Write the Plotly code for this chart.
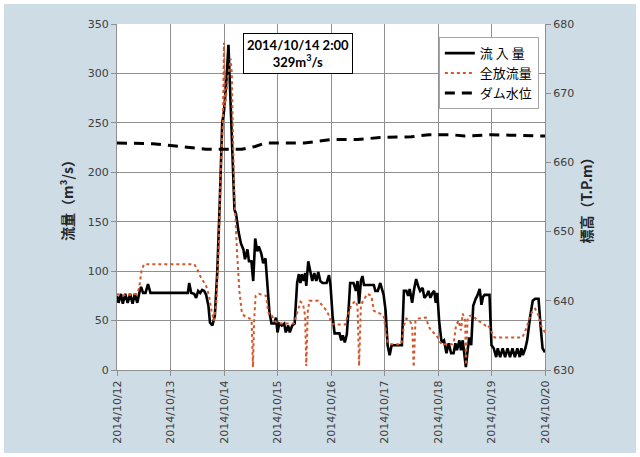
import pandas as pd
import plotly.graph_objects as go

# ---- data (hours since 2014/10/12 00:00) ----
inflow_hours = [0, 0.7, 1.8, 2.6, 3.7, 4.8, 5.9, 7.0, 8.0, 9.1, 10.2, 10.8, 11.7, 12.8, 13.9, 15.0, 16.3,
                31.8, 32.4, 33.3, 34.6, 35.5, 36.4, 37.3, 38.2, 39.1, 40.0, 41.0, 41.7, 42.8, 43.9, 45.0,
                46.1, 47.2, 48.0, 49.0, 50.0, 50.7, 51.6, 52.3, 52.7, 53.4, 54.5, 55.6, 56.7, 57.4, 58.5,
                59.2, 60.3, 61.1, 62.0, 62.9, 63.6, 64.7, 65.6, 66.6, 67.5, 68.4, 69.3, 70.6, 71.3, 72.0,
                72.8, 73.9, 75.0, 75.7, 76.8, 77.5, 78.6, 79.7, 80.8, 81.6, 82.3, 83.0, 83.8, 84.5, 84.9,
                85.8, 86.7, 87.6, 88.5, 89.4, 90.3, 91.2, 92.2, 93.3, 94.0, 95.1, 95.8, 96.7, 97.6, 98.7,
                99.8, 100.6, 101.3, 102.2, 103.1, 104.0, 104.6, 106.1, 107.2, 107.9, 108.6, 109.4, 110.1,
                110.8, 115.2, 115.9, 117.0, 118.1, 118.9, 119.6, 120.5, 121.4, 122.3, 123.2, 127.8, 128.7,
                129.8, 130.6, 131.3, 132.4, 133.3, 134.2, 135.1, 136.0, 137.1, 137.9, 139.0, 139.7, 140.6,
                141.5, 142.3, 143.0, 143.7, 144.5, 145.6, 146.7, 147.8, 148.8, 149.9, 151.0, 151.8, 152.5,
                153.6, 154.3, 155.1, 155.8, 156.5, 157.3, 158.0, 158.9, 159.8, 160.9, 161.6, 162.7, 163.5,
                164.2, 164.9, 167.1, 168.0, 169.0, 170.1, 170.8, 171.9, 173.0, 174.1, 175.2, 176.3, 177.4,
                178.5, 179.6, 180.7, 181.4, 182.1, 183.2, 184.0, 185.4, 186.5, 187.6, 189.1, 190.0, 190.9,
                192]
inflow_m3s = [75, 68, 77, 67, 77, 68, 77, 67, 77, 68, 80, 84, 78, 78, 87, 78, 78,
              78, 88, 78, 77, 73, 80, 78, 81, 80, 76, 65, 48, 45, 55, 100,
              170, 250, 262, 290, 329, 280, 230, 170, 162, 158, 140, 128, 122, 112, 122,
              110, 110, 90, 133, 120, 125, 118, 108, 113, 80, 58, 47, 47, 53, 38,
              47, 45, 47, 38, 45, 38, 45, 47, 88, 97, 88, 97, 90, 98, 85,
              110, 100, 90, 98, 90, 99, 90, 88, 88, 88, 96, 85, 55, 37, 37,
              37, 30, 35, 28, 36, 65, 88, 88, 80, 90, 67, 90, 95,
              86, 86, 80, 80, 88, 80, 76, 60, 25, 15, 25, 25, 80,
              80, 75, 82, 68, 82, 92, 85, 80, 83, 73, 76, 80, 73,
              78, 80, 68, 78, 50, 28, 30, 17, 27, 17, 17, 27, 20,
              30, 20, 30, 15, 3, 20, 33, 25, 65, 72, 75, 82, 66,
              74, 76, 76, 25, 22, 13, 22, 13, 22, 13, 22, 13, 22,
              13, 22, 13, 22, 15, 22, 30, 55, 70, 72, 72, 45, 22,
              18]

outflow_hours = [0, 2.6, 4.4, 6.2, 9.0, 9.9, 11.0, 12.1, 34.6, 35.8, 37.3, 38.8, 40.0, 41.3, 42.4,
                 43.5, 44.6, 45.7, 46.5, 47.5, 48.0, 48.4, 49.0, 50.0, 51.0, 51.5, 52.0, 52.6, 53.8,
                 54.9, 56.0, 57.0, 58.5, 59.6, 60.4, 61.0, 61.5, 62.2, 63.6, 65.6, 66.9, 67.7, 68.4,
                 69.5, 70.6, 71.7, 73.1, 79.4, 81.2, 82.3, 83.4, 84.4, 84.9, 85.6, 86.3, 90.3, 92.2,
                 94.0, 95.1, 96.2, 97.6, 102.4, 103.5, 105.0, 106.8, 107.9, 108.6, 109.4, 110.4, 112.3,
                 114.1, 115.2, 116.7, 118.1, 119.6, 120.5, 121.4, 123.2, 127.6, 128.7, 129.8, 131.3,
                 132.4, 133.1, 133.9, 135.0, 138.6, 139.7, 140.8, 141.9, 143.4, 144.5, 145.6, 150.3,
                 151.0, 152.1, 153.2, 154.3, 155.1, 156.2, 156.5, 157.3, 158.4, 159.8, 161.6, 163.5,
                 165.3, 166.4, 168.2, 169.3, 181.8, 182.9, 184.0, 185.4, 186.5, 187.6, 189.1, 190.2, 192]
outflow_m3s = [77, 75, 77, 76, 77, 83, 100, 107, 107, 103, 95, 90, 85, 75, 60,
               50, 70, 130, 200, 250, 331, 266, 280, 300, 315, 300, 240, 180, 121,
               80, 58, 55, 53, 52, 50, 3, 50, 75, 77, 76, 75, 60, 55,
               55, 50, 48, 47, 47, 60, 69, 67, 55, 4, 60, 70, 70, 65,
               60, 55, 47, 46, 46, 55, 65, 70, 65, 4, 65, 70, 77,
               75, 60, 58, 57, 55, 40, 28, 26, 26, 45, 52, 50,
               45, 3, 50, 52, 53, 45, 40, 38, 35, 30, 26, 26,
               27, 45, 50, 40, 57, 50, 5, 53, 55, 55, 50, 48,
               45, 46, 38, 33, 33, 38, 45, 55, 60, 62, 55, 45, 38]

level_hours = [0, 16, 28, 40, 48, 56, 62, 66.5, 84, 90, 96, 108, 118, 132, 140, 150, 156, 168, 192]
level_tpm = [662.8, 662.7, 662.3, 661.9, 661.9, 661.9, 662.3, 662.8, 662.8, 663.1, 663.3, 663.3,
             663.6, 663.7, 664.0, 664.0, 663.8, 664.0, 663.8]

start = pd.Timestamp("2014-10-12")
def to_time(hours):
    return [start + pd.Timedelta(hours=h) for h in hours]

series_names = ["流 入 量", "全放流量", "ダム水位"]
peak_label = "2014/10/14 2:00<br>329m<sup>3</sup>/s"

fig = go.Figure()
fig.add_trace(go.Scatter(x=to_time(inflow_hours), y=inflow_m3s, name=series_names[0], mode="lines",
                         line=dict(color="black", width=2.6)))
fig.add_trace(go.Scatter(x=to_time(outflow_hours), y=outflow_m3s, name=series_names[1], mode="lines",
                         line=dict(color="#D2572B", width=2, dash="dot")))
fig.add_trace(go.Scatter(x=to_time(level_hours), y=level_tpm, name=series_names[2], mode="lines",
                         yaxis="y2", line=dict(color="black", width=3, dash="10px,7px")))

L, R, T, B = 117, 95, 24, 87
W, H = 640 - L - R, 457 - T - B
grid = "#8F8F8F"
tickfont = dict(family="DejaVu Sans", size=11, color="#404040")
titlefont = dict(family="Noto Sans CJK JP", size=14, color="#262626", weight="bold")

fig.update_layout(
    width=640, height=457,
    margin=dict(l=L, r=R, t=T, b=B, autoexpand=False),
    paper_bgcolor="white",
    plot_bgcolor="white",
    showlegend=True,
    legend=dict(x=0.752, y=0.962, xanchor="left", yanchor="top", bgcolor="white",
                bordercolor="#A6A6A6", borderwidth=1, itemwidth=30,
                font=dict(family="Noto Sans CJK JP", size=13, color="black"),
                tracegroupgap=0),
    xaxis=dict(range=[start, start + pd.Timedelta(days=8)], dtick=86400000, tick0=start,
               tickformat="%Y/%m/%d", tickangle=-90, tickfont=tickfont,
               showgrid=True, gridcolor=grid, gridwidth=1,
               showline=True, linecolor=grid, ticks="outside", ticklen=5, tickcolor=grid,
               zeroline=False),
    yaxis=dict(range=[0, 350], dtick=50, tickfont=tickfont, showgrid=True, gridcolor=grid,
               showline=True, linecolor=grid, ticks="outside", ticklen=5, tickcolor=grid,
               zeroline=False,
               title=dict(text="流量（m³/s）", font=titlefont, standoff=10)),
    yaxis2=dict(range=[630, 680], dtick=10, overlaying="y", side="right", tickfont=tickfont,
                showgrid=False, showline=True, linecolor=grid, ticks="outside", ticklen=5,
                tickcolor=grid, zeroline=False,
                title=dict(text="標高（T.P.m）", font=titlefont, standoff=8)),
    shapes=[
        dict(type="rect", xref="paper", yref="paper", layer="below",
             x0=(4 - L) / W, x1=(636 - L) / W, y0=(T + H - 453) / H, y1=(T + H - 4) / H,
             fillcolor="#CDDCE5", line=dict(width=0)),
        dict(type="rect", xref="paper", yref="paper", layer="below",
             x0=0, x1=1, y0=0, y1=1, fillcolor="white", line=dict(width=0)),
    ],
    annotations=[
        dict(x=start + pd.Timedelta(hours=81.3), y=320, xref="x", yref="y", text=peak_label,
             showarrow=False, bgcolor="white", bordercolor="black", borderwidth=1, borderpad=3,
             font=dict(family="Lato", size=13, color="black", weight="bold"), align="center"),
    ],
)

fig.write_html("out.html", config={"displayModeBar": False},
               post_script="document.body.style.margin='0px';")
